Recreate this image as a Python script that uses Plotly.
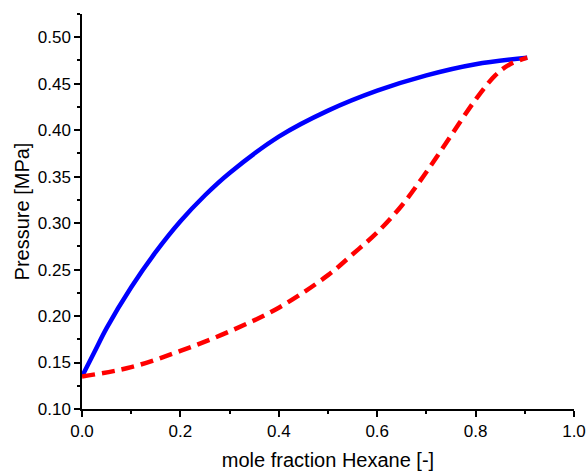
import plotly.graph_objects as go

# Bubble-point curve (liquid composition) and dew-point curve (vapour composition)
x_bubble = [0.0, 0.025, 0.05, 0.1, 0.15, 0.2, 0.25, 0.3, 0.4, 0.5, 0.6, 0.7, 0.8, 0.905]
p_bubble = [0.135, 0.161, 0.187, 0.231, 0.269, 0.302, 0.330, 0.354, 0.393, 0.421, 0.4425, 0.459,
            0.471, 0.478]

x_dew = [0.0, 0.1, 0.2, 0.3, 0.4, 0.5, 0.55, 0.6, 0.65, 0.7, 0.75, 0.8, 0.84, 0.87, 0.905]
p_dew = [0.135, 0.145, 0.1625, 0.1835, 0.209, 0.244, 0.2665, 0.290, 0.319, 0.355, 0.394, 0.433,
         0.459, 0.471, 0.478]

fig = go.Figure()
fig.add_trace(go.Scatter(x=x_bubble, y=p_bubble, mode="lines",
                         line=dict(color="#0000ff", width=4.5, shape="spline", smoothing=1),
                         showlegend=False))
fig.add_trace(go.Scatter(x=x_dew, y=p_dew, mode="lines",
                         line=dict(color="#ff0000", width=4.5, dash="13px,7px",
                                   shape="spline", smoothing=1),
                         showlegend=False))

font_family = "Liberation Sans, Arial"
axis_common = dict(
    showline=True, linecolor="black", linewidth=1.5,
    ticks="outside", ticklen=6, tickwidth=1.5, tickcolor="black",
    showgrid=False, zeroline=False, mirror=False, automargin=False,
    tickfont=dict(family=font_family, size=17, color="black"),
)

fig.update_xaxes(range=[0, 1.0], dtick=0.2, tickformat=".1f",
                 minor=dict(ticks="outside", ticklen=3, tickwidth=1.5, tickcolor="black", dtick=0.1),
                 title=dict(text="mole fraction Hexane [-]", standoff=13,
                            font=dict(family=font_family, size=20, color="black")),
                 **axis_common)
fig.update_yaxes(range=[0.10, 0.525], dtick=0.05, tick0=0.10, tickformat=".2f",
                 minor=dict(ticks="outside", ticklen=3, tickwidth=1.5, tickcolor="black", dtick=0.025),
                 title=dict(text="Pressure [MPa]", standoff=3,
                            font=dict(family=font_family, size=20, color="black")),
                 **axis_common)

fig.update_layout(width=587, height=472,
                  margin=dict(l=82, r=13, t=14, b=63),
                  paper_bgcolor="white", plot_bgcolor="white")

fig.write_html("out.html")
